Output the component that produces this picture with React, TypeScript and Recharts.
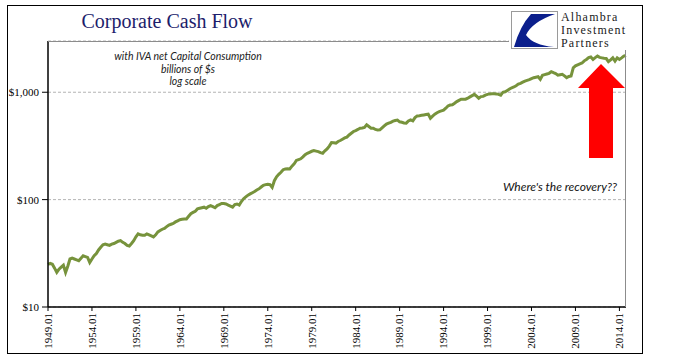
import React from "react";
import { LineChart, Line, XAxis, YAxis, CartesianGrid } from "recharts";

// Quarterly periods 1949.01 .. 2014.04
const years: number[] = [
  1949, 1950, 1951, 1952, 1953, 1954, 1955, 1956, 1957, 1958, 1959,
  1960, 1961, 1962, 1963, 1964, 1965, 1966, 1967, 1968, 1969,
  1970, 1971, 1972, 1973, 1974, 1975, 1976, 1977, 1978, 1979,
  1980, 1981, 1982, 1983, 1984, 1985, 1986, 1987, 1988, 1989,
  1990, 1991, 1992, 1993, 1994, 1995, 1996, 1997, 1998, 1999,
  2000, 2001, 2002, 2003, 2004, 2005, 2006, 2007, 2008, 2009,
  2010, 2011, 2012, 2013, 2014,
];
const quarters: string[] = ["01", "02", "03", "04"];

// Corporate cash flow, billions of $ (4 quarterly values per year)
const cashFlow: number[] = [
  25, 25.5, 25, 23, // 1949
  21, 22.5, 23.5, 24.5, // 1950
  21, 24, 28, 28.5, // 1951
  28, 27.5, 27, 28.5, // 1952
  30, 29.5, 29, 26, // 1953
  28, 30, 31.5, 34, // 1954
  36, 38, 38.5, 38, // 1955
  37.5, 38.5, 39, 40, // 1956
  41, 41.5, 40, 39, // 1957
  37.5, 37, 39, 41.5, // 1958
  45, 48, 47, 46.5, // 1959
  46.5, 48, 47, 46, // 1960
  45, 47, 50, 51.5, // 1961
  53, 54, 56, 58, // 1962
  59, 60, 62, 63.5, // 1963
  65, 65.5, 66, 66, // 1964
  70, 74, 76, 78, // 1965
  82, 83, 84, 85, // 1966
  83, 86, 88, 86, // 1967
  84, 88, 90, 92, // 1968
  92, 91, 89, 87, // 1969
  85, 90, 91, 89, // 1970
  96, 102, 106, 110, // 1971
  113, 116, 119, 123, // 1972
  126, 131, 136, 138, // 1973
  139, 138, 130, 150, // 1974
  163, 172, 180, 190, // 1975
  193, 194, 193, 205, // 1976
  215, 232, 236, 240, // 1977
  250, 262, 270, 276, // 1978
  282, 286, 283, 280, // 1979
  274, 270, 285, 297, // 1980
  315, 340, 338, 336, // 1981
  348, 355, 365, 375, // 1982
  382, 400, 415, 431, // 1983
  440, 450, 462, 465, // 1984
  470, 497, 480, 463, // 1985
  463, 450, 444, 446, // 1986
  465, 485, 505, 515, // 1987
  525, 538, 545, 550, // 1988
  530, 525, 518, 515, // 1989
  540, 553, 541, 580, // 1990
  602, 605, 610, 615, // 1991
  620, 625, 573, 600, // 1992
  625, 645, 660, 670, // 1993
  680, 710, 745, 760, // 1994
  765, 790, 818, 840, // 1995
  861, 860, 861, 880, // 1996
  905, 930, 955, 920, // 1997
  880, 910, 915, 940, // 1998
  955, 965, 970, 968, // 1999
  965, 955, 938, 1000, // 2000
  1010, 1040, 1070, 1100, // 2001
  1120, 1150, 1190, 1210, // 2002
  1240, 1270, 1290, 1310, // 2003
  1340, 1366, 1380, 1395, // 2004
  1320, 1440, 1460, 1480, // 2005
  1500, 1553, 1520, 1490, // 2006
  1440, 1455, 1470, 1420, // 2007
  1366, 1400, 1415, 1690, // 2008
  1760, 1800, 1840, 1870, // 2009
  1960, 2020, 2100, 2130, // 2010
  2020, 2100, 2170, 2110, // 2011
  2090, 2070, 2060, 1925, // 2012
  2000, 2090, 1950, 2090, // 2013
  2020, 2090, 2170, 2200, // 2014
];

const yTicks: number[] = [10, 100, 1000];
const yDomain: number[] = [10, 3000];

const periods: string[] = years.flatMap((y) => quarters.map((q) => `${y}.${q}`));
const data = periods.map((p, i) => ({ period: p, value: cashFlow[i] }));

const SERIF = "'Liberation Serif', 'Times New Roman', serif";
const ITALIC_SANS = "Lato, 'Open Sans', sans-serif";

const XTick = (props: any) => {
  const { x, y, payload } = props;
  return (
    <g transform={`translate(${x},${y})`}>
      <text
        x={0}
        y={0}
        dy="0.35em"
        textAnchor="end"
        transform="rotate(-90)"
        fontFamily={SERIF}
        fontSize={11}
        fill="#000"
      >
        {payload.value}
      </text>
    </g>
  );
};

const fmtDollar = (v: number) => "$" + v.toLocaleString("en-US");

export default function App() {
  return (
    <div
      style={{
        position: "absolute",
        left: 0,
        top: 0,
        width: 675,
        height: 358,
        background: "#fff",
        overflow: "hidden",
      }}
    >
      <div style={{ position: "absolute", left: 0, top: 0 }}>
        <LineChart
          width={675}
          height={358}
          data={data}
          margin={{ top: 41, right: 49, bottom: 0, left: 0 }}
        >
          <CartesianGrid
            vertical={false}
            stroke="#b4b4b4"
            strokeDasharray="3 2"
          />
          <XAxis
            dataKey="period"
            interval={19}
            height={51}
            axisLine={{ stroke: "#000", strokeWidth: 1.5 }}
            tickLine={{ stroke: "#000" }}
            tickSize={4}
            tick={<XTick />}
          />
          <YAxis
            scale="log"
            type="number"
            domain={yDomain}
            ticks={yTicks}
            allowDataOverflow
            width={48}
            axisLine={{ stroke: "#000", strokeWidth: 1.5 }}
            tickLine={{ stroke: "#000" }}
            tickSize={6}
            tickMargin={3}
            tickFormatter={fmtDollar}
            tick={{ fontFamily: SERIF, fontSize: 11, fill: "#000" }}
          />
          <Line
            type="linear"
            dataKey="value"
            stroke="#77933C"
            strokeWidth={3}
            dot={false}
            isAnimationActive={false}
          />
        </LineChart>
      </div>

      {/* plot area border (top / right) */}
      <div
        style={{
          position: "absolute",
          left: 48,
          top: 41,
          width: 578,
          height: 266,
          boxSizing: "border-box",
          borderTop: "1px solid #8c8c8c",
          borderRight: "1px solid #8c8c8c",
          pointerEvents: "none",
        }}
      />

      {/* outer frame */}
      <div
        style={{
          position: "absolute",
          left: 7,
          top: 5,
          width: 636,
          height: 349,
          boxSizing: "border-box",
          border: "1px solid #000",
          pointerEvents: "none",
        }}
      />

      {/* title */}
      <div
        style={{
          position: "absolute",
          left: 40,
          top: 9,
          width: 254,
          textAlign: "center",
          fontFamily: SERIF,
          fontSize: 20,
          color: "#1d1d6b",
          lineHeight: "24px",
          whiteSpace: "nowrap",
        }}
      >
        Corporate Cash Flow
      </div>

      {/* subtitle */}
      <div
        style={{
          position: "absolute",
          left: 88,
          top: 50,
          width: 200,
          textAlign: "center",
          fontFamily: ITALIC_SANS,
          fontStyle: "italic",
          fontSize: 10.5,
          lineHeight: "12.5px",
          color: "#222",
          whiteSpace: "nowrap",
        }}
      >
        <div>with IVA net Capital Consumption</div>
        <div>billions of $s</div>
        <div>log scale</div>
      </div>

      {/* annotation */}
      <div
        style={{
          position: "absolute",
          left: 417,
          top: 179,
          width: 200,
          textAlign: "right",
          fontFamily: ITALIC_SANS,
          fontStyle: "italic",
          fontSize: 12,
          lineHeight: "15px",
          color: "#111",
          whiteSpace: "nowrap",
        }}
      >
        Where's the recovery??
      </div>

      {/* red arrow */}
      <svg
        width={675}
        height={358}
        style={{ position: "absolute", left: 0, top: 0, pointerEvents: "none" }}
      >
        <polygon
          points="601,64 625,88 613,88 613,158 589,158 589,88 578,88"
          fill="#ff0000"
        />
      </svg>

      {/* logo */}
      <div
        style={{
          position: "absolute",
          left: 509,
          top: 9,
          width: 128,
          height: 41,
          background: "#fff",
        }}
      />
      <svg
        width={675}
        height={358}
        style={{ position: "absolute", left: 0, top: 0, pointerEvents: "none" }}
      >
        <rect x={511.5} y={11.5} width={46} height={37} fill="#fff" stroke="#9a9a9a" strokeWidth={1} />
        <path
          d="M 531 14 L 555 14 Q 532 22 526 35 Q 533 45 554 47 L 514 47 Q 520 26 531 14 Z"
          fill="#0b1f8c"
        />
      </svg>
      <div
        style={{
          position: "absolute",
          left: 561,
          top: 11,
          fontFamily: SERIF,
          fontSize: 12,
          lineHeight: "13px",
          letterSpacing: "1.2px",
          color: "#1a1a1a",
          whiteSpace: "nowrap",
        }}
      >
        <div>Alhambra</div>
        <div>Investment</div>
        <div>Partners</div>
      </div>
    </div>
  );
}
